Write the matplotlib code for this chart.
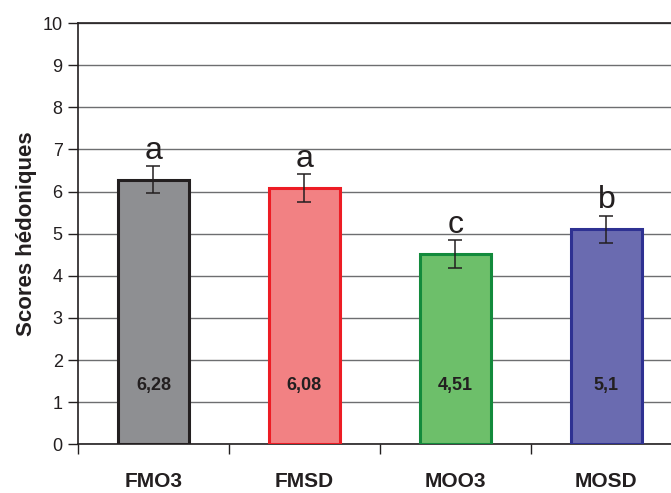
import numpy as np
import matplotlib
matplotlib.use("Agg")
import matplotlib.pyplot as plt

# data
groups = ["FMO3", "FMSD", "MOO3", "MOSD"]
scores = [6.28, 6.08, 4.51, 5.1]
errors = [0.32, 0.33, 0.33, 0.33]
letters = ["a", "a", "c", "b"]
value_labels = ["6,28", "6,08", "4,51", "5,1"]
fill_colors = ["#8e8f92", "#f28183", "#6dbf6a", "#6a6bb0"]
edge_colors = ["#231f20", "#ed1c24", "#138a3c", "#2e3192"]

plt.rcParams["font.family"] = ["Liberation Sans", "DejaVu Sans"]
text_color = "#231f20"

fig = plt.figure(figsize=(6.71, 4.93), dpi=100)
ax = fig.add_axes([0.1162, 0.0988, 0.900, 0.8545])

x = np.arange(len(groups))
ax.bar(x, scores, width=0.47, color=fill_colors, edgecolor=edge_colors,
       linewidth=2.2, zorder=3)
ax.errorbar(x, scores, yerr=errors, fmt="none", ecolor=text_color,
            elinewidth=1.1, capsize=5, capthick=1.1, zorder=4)

for xi, s, e, letter, lab in zip(x, scores, errors, letters, value_labels):
    ax.text(xi, s + e + 0.18, letter, ha="center", va="baseline",
            fontsize=23, color=text_color, zorder=5)
    ax.text(xi, 1.4, lab, ha="center", va="center", fontsize=13,
            fontweight="bold", color=text_color, zorder=5)

ax.set_xlim(-0.5, 3.5)
ax.set_ylim(0, 10)
ax.set_yticks(range(0, 11))
ax.yaxis.grid(True, color="#6d6e70", linewidth=1.0, zorder=0)
ax.set_axisbelow(True)

# category boundaries as ticks, names centred between them
ax.set_xticks(np.arange(-0.5, 3.6, 1.0))
ax.set_xticklabels([])
ax.set_xticks(x, minor=True)
ax.set_xticklabels(groups, minor=True, fontsize=15, fontweight="bold",
                   color=text_color)
ax.tick_params(axis="x", which="major", direction="out", length=7,
               color=text_color, width=1)
ax.tick_params(axis="x", which="minor", length=0, pad=20)
ax.tick_params(axis="y", direction="out", length=7, color=text_color,
               width=1, labelsize=13, labelcolor=text_color, pad=4)

ax.set_ylabel("Scores hédoniques", fontsize=16, fontweight="bold",
              color=text_color, labelpad=4)

for side in ["left", "bottom", "top"]:
    ax.spines[side].set_color(text_color)
    ax.spines[side].set_linewidth(1.2)
ax.spines["right"].set_visible(False)

plt.savefig("out.png", dpi=100)
